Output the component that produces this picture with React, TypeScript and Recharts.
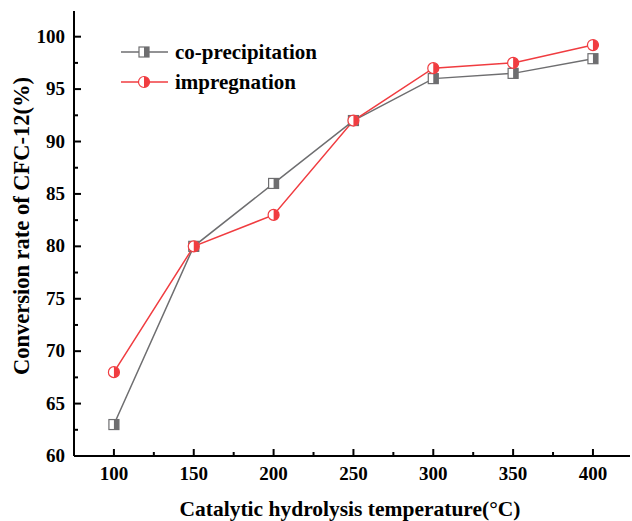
import React from 'react';
import { LineChart, Line, XAxis, YAxis } from 'recharts';

const temperatures = [100, 150, 200, 250, 300, 350, 400];
const coPrecipitation = [63, 80, 86, 92, 96, 96.5, 97.9];
const impregnation = [68, 80, 83, 92, 97, 97.5, 99.2];

const xTicks = [100, 125, 150, 175, 200, 225, 250, 275, 300, 325, 350, 375, 400];
const yTicks = [60, 62.5, 65, 67.5, 70, 72.5, 75, 77.5, 80, 82.5, 85, 87.5, 90, 92.5, 95, 97.5, 100];

const GRAY = '#6e6e70';
const RED = '#f03c40';
const FONT = '"Liberation Serif", "Times New Roman", serif';

const data = temperatures.map((t, i) => ({
  t,
  co: coPrecipitation[i],
  imp: impregnation[i],
}));

const SquareDot = (props: any) => {
  const { cx, cy } = props;
  if (cx == null || cy == null) return null;
  const s = 5;
  return (
    <g>
      <rect x={cx - s} y={cy - s} width={s * 2} height={s * 2} fill="#fff" stroke={GRAY} strokeWidth={1.2} />
      <rect x={cx} y={cy - s} width={s} height={s * 2} fill={GRAY} />
    </g>
  );
};

const CircleDot = (props: any) => {
  const { cx, cy } = props;
  if (cx == null || cy == null) return null;
  const r = 5.5;
  return (
    <g>
      <circle cx={cx} cy={cy} r={r} fill="#fff" stroke={RED} strokeWidth={1.2} />
      <path d={`M${cx},${cy - r} A${r},${r} 0 0 1 ${cx},${cy + r} Z`} fill={RED} />
    </g>
  );
};

const XTick = (props: any) => {
  const { x, y, payload } = props;
  const major = payload.value % 50 === 0;
  return (
    <g>
      <line x1={x} y1={y} x2={x} y2={y - (major ? 7 : 4)} stroke="#000" strokeWidth={2} />
      {major && (
        <text x={x} y={y + 24} textAnchor="middle" fontFamily={FONT} fontWeight="bold" fontSize={19} fill="#000">
          {payload.value}
        </text>
      )}
    </g>
  );
};

const YTick = (props: any) => {
  const { x, y, payload } = props;
  const major = payload.value % 5 === 0;
  return (
    <g>
      <line x1={x} y1={y} x2={x + (major ? 7 : 4)} y2={y} stroke="#000" strokeWidth={2} />
      {major && (
        <text x={x - 9} y={y + 6} textAnchor="end" fontFamily={FONT} fontWeight="bold" fontSize={19} fill="#000">
          {payload.value}
        </text>
      )}
    </g>
  );
};

const LegendBox = () => (
  <svg width={220} height={70} style={{ position: 'absolute', left: 118, top: 38 }}>
    <line x1={3} y1={14} x2={50} y2={14} stroke={GRAY} strokeWidth={1.5} />
    <SquareDot cx={26} cy={14} />
    <text x={57} y={21} fontFamily={FONT} fontWeight="bold" fontSize={21} fill="#000">co-precipitation</text>
    <line x1={3} y1={44} x2={50} y2={44} stroke={RED} strokeWidth={1.5} />
    <CircleDot cx={26} cy={44} />
    <text x={57} y={51} fontFamily={FONT} fontWeight="bold" fontSize={21} fill="#000">impregnation</text>
  </svg>
);

export default function App() {
  return (
    <div style={{ position: 'absolute', left: 0, top: 0, width: 632, height: 521, background: '#fff' }}>
      <LineChart width={632} height={521} data={data} margin={{ top: 11, right: 2, bottom: 0, left: 0 }}>
        <XAxis
          dataKey="t"
          type="number"
          domain={[75, 423.2]}
          ticks={xTicks}
          interval={0}
          height={65}
          tickSize={0}
          tickMargin={0}
          tickLine={false}
          tick={<XTick />}
          axisLine={{ stroke: '#000', strokeWidth: 2 }}
          label={{
            content: () => (
              <text x={350} y={516} textAnchor="middle" fontFamily={FONT} fontWeight="bold" fontSize={21.5} fill="#000">
                Catalytic hydrolysis temperature(°C)
              </text>
            ),
          }}
        />
        <XAxis
          xAxisId="top"
          dataKey="t"
          type="number"
          orientation="top"
          domain={[75, 423.2]}
          height={0}
          tick={false}
          tickLine={false}
          axisLine={{ stroke: '#000', strokeWidth: 2 }}
        />
        <YAxis
          type="number"
          domain={[60, 102.45]}
          ticks={yTicks}
          interval={0}
          width={74}
          tickSize={0}
          tickMargin={0}
          tickLine={false}
          tick={<YTick />}
          axisLine={{ stroke: '#000', strokeWidth: 2 }}
          label={{
            content: () => (
              <text
                x={21}
                y={226}
                transform="rotate(-90 21 226)"
                textAnchor="middle"
                dominantBaseline="central"
                fontFamily={FONT}
                fontWeight="bold"
                fontSize={22.5}
                fill="#000"
              >
                Conversion rate of CFC-12(%)
              </text>
            ),
          }}
        />
        <YAxis
          yAxisId="right"
          orientation="right"
          type="number"
          domain={[60, 102.45]}
          width={0}
          tick={false}
          tickLine={false}
          axisLine={{ stroke: '#d8d8d8', strokeWidth: 1 }}
        />
        <Line
          dataKey="co"
          stroke={GRAY}
          strokeWidth={1.5}
          dot={<SquareDot />}
          activeDot={false}
          isAnimationActive={false}
        />
        <Line
          dataKey="imp"
          stroke={RED}
          strokeWidth={1.5}
          dot={<CircleDot />}
          activeDot={false}
          isAnimationActive={false}
        />
      </LineChart>
      <LegendBox />
    </div>
  );
}
